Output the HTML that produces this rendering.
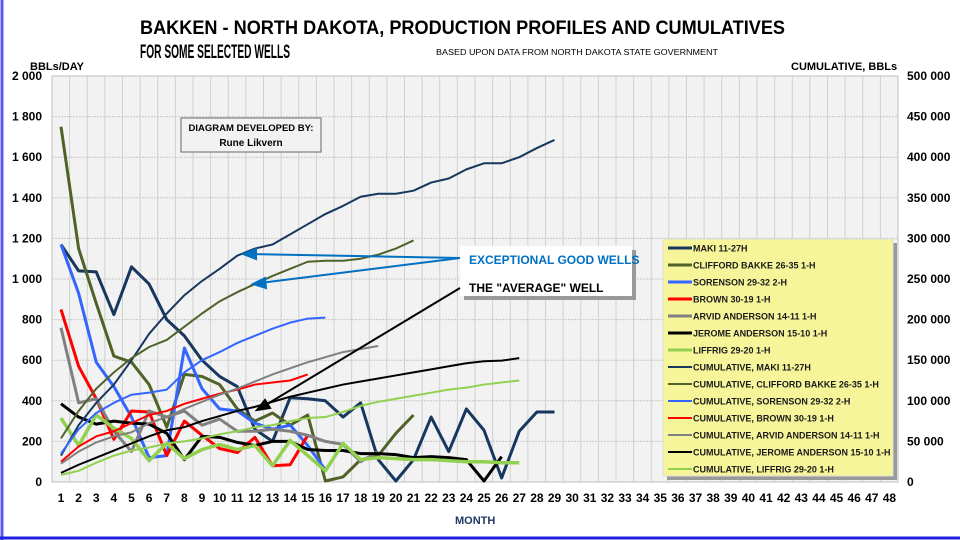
<!DOCTYPE html>
<html><head><meta charset="utf-8">
<style>
body{margin:0;background:#fff;}
svg{display:block;font-family:"Liberation Sans",Arial,sans-serif;}
</style></head><body>
<svg id="c" width="960" height="540" viewBox="0 0 960 540" xmlns="http://www.w3.org/2000/svg">
<rect x="0" y="0" width="960" height="540" fill="#fff"/>
<line x1="2" y1="0" x2="2" y2="540" stroke="#5a5af0" stroke-width="3"/>
<line x1="0" y1="538" x2="960" y2="538" stroke="#2020e0" stroke-width="3"/>
<rect x="52" y="76" width="846" height="406" fill="#f2f2f2" stroke="#bfbfbf"/>
<g id="grid"></g>
<text x="140" y="34" font-size="19" font-weight="bold" fill="#000" textLength="645" lengthAdjust="spacingAndGlyphs">BAKKEN - NORTH DAKOTA, PRODUCTION PROFILES AND CUMULATIVES</text>
<text x="140" y="58" font-size="19" font-weight="bold" fill="#000" textLength="150" lengthAdjust="spacingAndGlyphs">FOR SOME SELECTED WELLS</text>
<text x="436" y="55" font-size="8" fill="#000" textLength="282" lengthAdjust="spacingAndGlyphs">BASED UPON DATA FROM NORTH DAKOTA  STATE GOVERNMENT</text>
<text x="30" y="70" font-size="11" font-weight="bold" fill="#000">BBLs/DAY</text>
<text x="791" y="70" font-size="11" font-weight="bold" fill="#000">CUMULATIVE, BBLs</text>
<text x="455" y="524" font-size="11" font-weight="bold" fill="#1f3864">MONTH</text>
<g id="labels" font-size="12" font-weight="bold" fill="#000"></g>
<g id="series" fill="none" stroke-linejoin="round"></g>
<rect x="181" y="118" width="140" height="34" fill="#f2f2f2" stroke="#666"/>
<text x="251" y="131" font-size="9.5" font-weight="bold" text-anchor="middle">DIAGRAM DEVELOPED BY:</text>
<text x="251" y="146" font-size="10" font-weight="bold" text-anchor="middle">Rune Likvern</text>
<rect x="464" y="250" width="172" height="50" fill="#999"/>
<rect x="460" y="246" width="172" height="50" fill="#fff"/>
<g stroke="#0070c0" stroke-width="2" fill="#0070c0">
<line x1="460" y1="258" x2="250" y2="254"/><polygon points="243,254 256,249 256,259"/>
<line x1="460" y1="258" x2="260" y2="283"/><polygon points="253,284 265,278 266,288"/>
</g>
<g stroke="#000" stroke-width="2" fill="#000">
<line x1="460" y1="288" x2="264" y2="406"/><polygon points="257,410 265,400 270,408"/>
</g>
<text x="469" y="264" font-size="12" font-weight="bold" fill="#0070c0">EXCEPTIONAL GOOD WELLS</text>
<text x="469" y="292" font-size="12" font-weight="bold" fill="#000">THE "AVERAGE" WELL</text>
<rect x="667" y="243" width="230" height="237" fill="#999"/>
<rect x="663" y="239" width="230" height="237" fill="#f6f59a" stroke="#ddd"/>
<g id="legend" font-size="9" font-weight="bold" fill="#1a1a1a"></g>
</svg>
<script>
const NS="http://www.w3.org/2000/svg";
function el(p,t,a,txt){const e=document.createElementNS(NS,t);for(const k in a)e.setAttribute(k,a[k]);if(txt!==undefined)e.textContent=txt;document.getElementById(p).appendChild(e);return e;}
const X=m=>61+(m-1)*17.625, Y=v=>482-v*0.203;
for(let i=1;i<48;i++){const x=52+i*17.625;el("grid","line",{x1:x,y1:76,x2:x,y2:482,stroke:"#d0d0d0","stroke-width":1});}
for(let i=1;i<10;i++){const y=482-i*40.6;el("grid","line",{x1:52,y1:y,x2:898,y2:y,stroke:"#c8c8c8","stroke-width":1,"stroke-dasharray":"2,1"});}
const L=["0","200","400","600","800","1 000","1 200","1 400","1 600","1 800","2 000"];
const R=["0","50 000","100 000","150 000","200 000","250 000","300 000","350 000","400 000","450 000","500 000"];
for(let i=0;i<=10;i++){const y=482-i*40.6+4;el("labels","text",{x:42,y:y,"text-anchor":"end"},L[i]);el("labels","text",{x:907,y:y},R[i]);}
for(let m=1;m<=48;m++)el("labels","text",{x:X(m),y:502,"text-anchor":"middle"},m);
const S=[
["#17375e",3,[1170,1040,1035,825,1060,975,800,720,600,520,470,260,200,415,410,400,320,390,110,5,110,320,150,360,255,20,250,345,345]],
["#4f6228",3,[1750,1150,880,620,590,480,270,530,520,480,360,300,340,280,330,5,25,110,130,240,330]],
["#3366ff",3,[1170,930,590,470,320,120,130,660,460,360,350,290,260,280,180,60]],
["#ff0000",3,[850,570,410,210,350,345,130,300,230,165,145,220,80,85,230]],
["#808080",3,[760,390,410,250,150,350,320,350,280,310,250,250,260,250,230,200,185,100,150]],
["#000000",3,[385,320,285,300,290,285,240,110,225,220,195,180,200,200,160,155,155,140,140,135,120,125,120,110,5,125]],
["#92d050",3.5,[315,180,330,265,215,105,190,115,160,185,160,180,80,205,130,55,190,110,120,115,110,110,105,100,100,95,95]],
["#17375e",2,[130,280,390,480,600,730,830,920,990,1050,1115,1150,1170,1220,1270,1320,1360,1405,1420,1420,1435,1475,1495,1540,1570,1570,1600,1645,1685]],
["#4f6228",2,[215,350,460,540,610,665,700,765,830,890,935,975,1015,1050,1085,1090,1090,1100,1120,1150,1190]],
["#3366ff",2,[140,260,340,390,430,440,455,540,600,640,685,720,755,785,805,810]],
["#ff0000",2,[100,175,225,250,290,330,350,385,410,435,455,480,490,500,530]],
["#808080",2,[90,150,195,225,245,290,320,360,395,430,460,495,530,560,590,615,640,655,670]],
["#000000",2,[45,85,120,155,190,225,255,270,300,325,350,370,395,420,440,460,480,495,510,525,540,555,570,585,595,598,610]],
["#92d050",2,[35,55,95,130,155,170,190,200,215,235,250,270,280,300,315,320,345,375,395,410,425,440,455,465,480,490,500]]
];
S.forEach(s=>{el("series","polyline",{points:s[2].map((v,i)=>X(i+1)+","+Y(v)).join(" "),stroke:s[0],"stroke-width":s[1]});});
const N=["MAKI 11-27H","CLIFFORD BAKKE 26-35 1-H","SORENSON 29-32 2-H","BROWN 30-19 1-H","ARVID ANDERSON 14-11 1-H","JEROME ANDERSON 15-10 1-H","LIFFRIG 29-20 1-H","CUMULATIVE, MAKI 11-27H","CUMULATIVE, CLIFFORD BAKKE 26-35 1-H","CUMULATIVE, SORENSON 29-32 2-H","CUMULATIVE, BROWN 30-19 1-H","CUMULATIVE, ARVID ANDERSON 14-11 1-H","CUMULATIVE, JEROME ANDERSON 15-10 1-H","CUMULATIVE, LIFFRIG 29-20 1-H"];
N.forEach((n,i)=>{const y=248+i*17;el("legend","line",{x1:668,y1:y,x2:692,y2:y,stroke:S[i][0],"stroke-width":i<7?3:2});el("legend","text",{x:693,y:y+3.5},n);});
</script>
</body></html>
